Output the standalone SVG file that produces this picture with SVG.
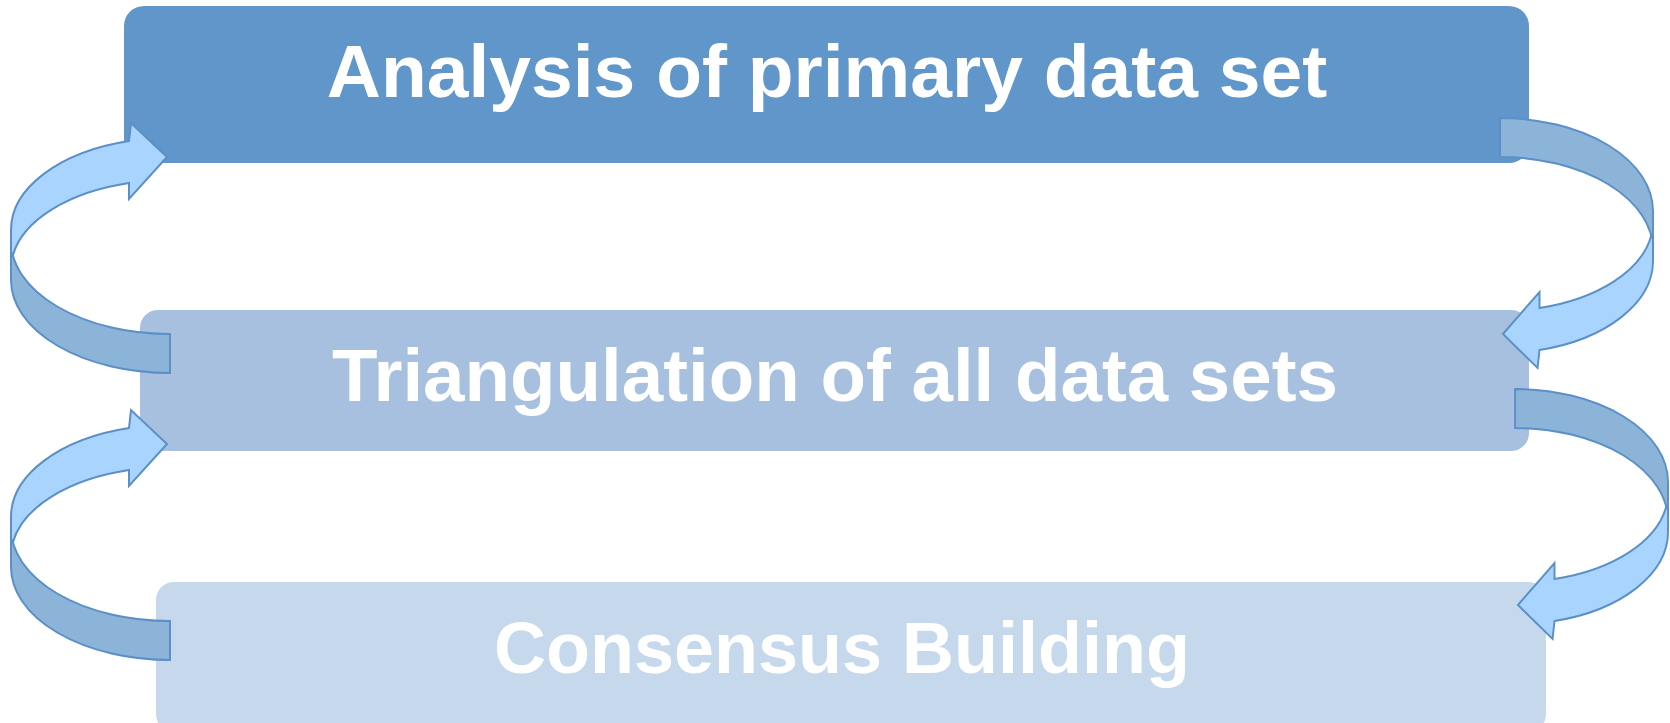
<svg xmlns="http://www.w3.org/2000/svg" width="1670" height="723" viewBox="0 0 1670 723">
<defs>
<style>
.lbl{font-family:"Liberation Sans",Arial,sans-serif;font-weight:bold;fill:#ffffff;text-anchor:middle}
.back{fill:#8CB3D8;stroke:#5A8FC8;stroke-width:2;stroke-linejoin:miter}
.front{fill:#A9D4FE;stroke:#5A8FC8;stroke-width:2;stroke-linejoin:miter}
</style>
<g id="curvedArrow">
<path class="back" d="M 11,241 L 11,280 A 159 93 0 0 0 170,373 L 170,334 A 159 93 0 0 1 11,241 Z"/>
<path class="front" d="M 11,230 A 159 92 0 0 1 129,141 L 131,123 L 167,157 L 129,199 L 129,183 A 159 89 0 0 0 13,255 L 11,252 Z"/>
</g>
</defs>
<rect width="1670" height="723" fill="#ffffff"/>
<g id="node-analysis">
<rect x="124" y="6" width="1405" height="157" rx="20" fill="#6096C9"/>
<text class="lbl" x="827" y="97" font-size="75">Analysis of primary data set</text>
</g>
<g id="node-triangulation">
<rect x="140" y="310" width="1389" height="141" rx="18" fill="#A7C0DF"/>
<text class="lbl" x="835" y="401" font-size="74.5">Triangulation of all data sets</text>
</g>
<g id="node-consensus">
<rect x="156" y="582" width="1390" height="150" rx="18" fill="#C5D8EC"/>
<text class="lbl" x="842" y="673" font-size="72">Consensus Building</text>
</g>
<g id="connectors">
<use href="#curvedArrow"/>
<use href="#curvedArrow" transform="translate(0,287)"/>
<use href="#curvedArrow" transform="translate(1663.6,491) scale(-0.962,-1)"/>
<use href="#curvedArrow" transform="translate(1678.6,762) scale(-0.962,-1)"/>
</g>
</svg>
